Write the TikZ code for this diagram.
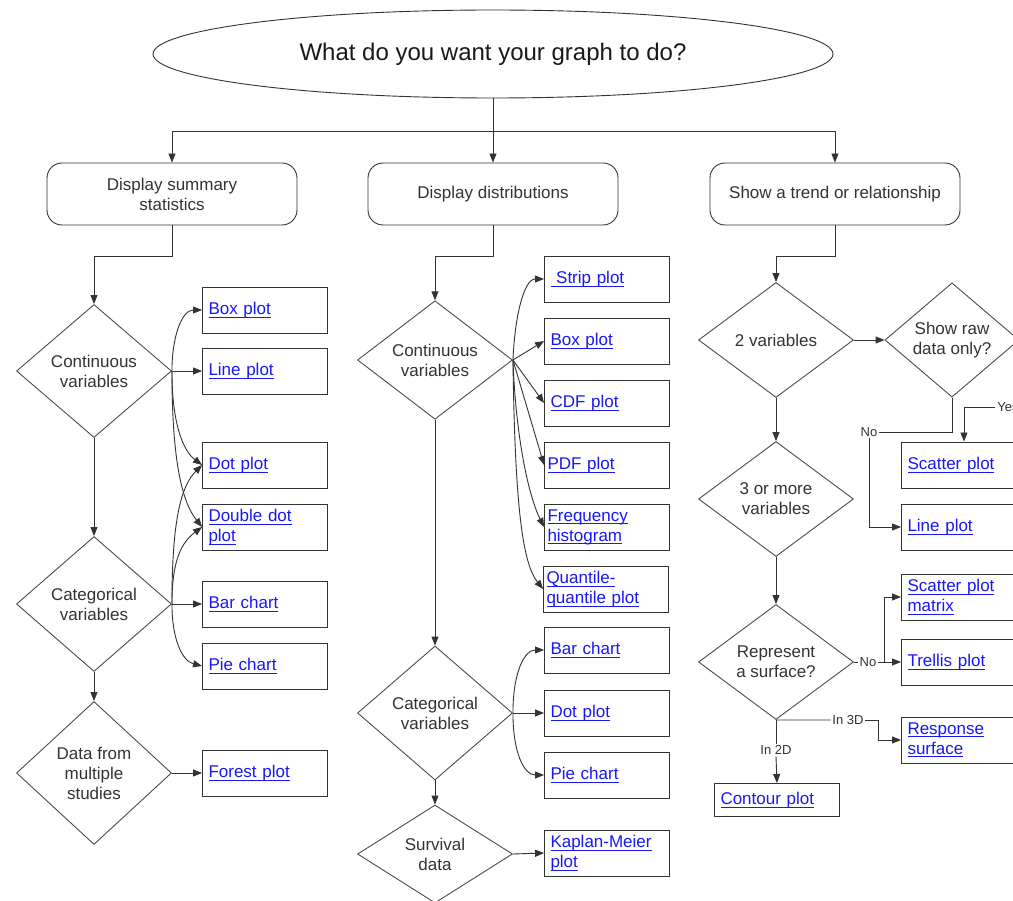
\documentclass[tikz,border=0pt]{standalone}
\usepackage{amsmath}
\usepackage{fontspec}
\setmainfont{Liberation Sans}
\usetikzlibrary{shapes.geometric,arrows.meta}
\definecolor{linkblue}{RGB}{24,24,245}
\definecolor{inkgray}{RGB}{51,51,51}
\newcommand{\lnk}[1]{\textcolor{linkblue}{\underline{\smash[b]{#1}}}}
\begin{document}
\begin{tikzpicture}[
    x=1pt, y=-1pt,
    line width=0.9pt,
    every node/.style={font=\fontsize{17}{20}\selectfont, text=inkgray},
    arr/.style={draw=black!80, -{Triangle[length=9pt,width=7pt]}},
    wire/.style={draw=black!80},
    question/.style={ellipse, draw=black!80, minimum width=680pt, minimum height=88pt, font=\fontsize{24}{28}\selectfont, text=black!90},
    task/.style={rectangle, rounded corners=15pt, draw=black!80, minimum width=250pt, minimum height=62pt, align=center},
    choice/.style={diamond, draw=black!70, minimum width=155pt, minimum height=115pt, inner sep=0pt, align=center},
    plot/.style={rectangle, draw=black!80, minimum width=125pt, minimum height=46pt, text width=113pt, inner xsep=6pt, align=left},
    tight/.style={inner xsep=3pt, text width=119pt},
    tag/.style={font=\fontsize{13}{15}\selectfont, inner sep=1.5pt}
]
\useasboundingbox[fill=white] (0,0) rectangle (1013,901);

\node[question] (goal) at (493,54) {What do you want your graph to do?};
\node[task] (summ) at (172,194) {Display summary\\statistics};
\node[task] (dist) at (493,194) {Display distributions};
\node[task] (trend) at (835,194) {Show a trend or relationship};

\node[choice, minimum height=133pt] (lcont) at (94,371) {Continuous\\variables};
\node[choice, minimum height=135pt] (lcat) at (94,604) {Categorical\\variables};
\node[choice, minimum height=143pt] (lmulti) at (94,773) {Data from\\multiple\\studies};
\node[plot] (lbox) at (265,310) {\lnk{Box plot}};
\node[plot] (lline) at (265,371) {\lnk{Line plot}};
\node[plot] (ldot) at (265,465) {\lnk{Dot plot}};
\node[plot] (ldbl) at (265,527) {\lnk{Double dot}\\\lnk{plot}};
\node[plot] (lbar) at (265,604) {\lnk{Bar chart}};
\node[plot] (lpie) at (265,666) {\lnk{Pie chart}};
\node[plot] (lforest) at (265,773) {\lnk{Forest plot}};

\node[choice] (mcont) at (435,360) {Continuous\\variables};
\node[choice, minimum height=134pt] (mcat) at (435,713) {Categorical\\variables};
\node[choice, minimum height=98pt] (msurv) at (435,854) {Survival\\data};
\node[plot] (mstrip) at (607,279) {\lnk{\ Strip plot}};
\node[plot] (mbox) at (607,341) {\lnk{Box plot}};
\node[plot] (mcdf) at (607,403) {\lnk{CDF plot}};
\node[plot, tight] (mpdf) at (607,465) {\lnk{PDF plot}};
\node[plot, tight] (mfreq) at (607,527) {\lnk{Frequency}\\\lnk{histogram}};
\node[plot, tight] (mqq) at (606,589) {\lnk{Quantile-}\\\lnk{quantile plot}};
\node[plot] (mbar) at (607,650) {\lnk{Bar chart}};
\node[plot] (mdot) at (607,713) {\lnk{Dot plot}};
\node[plot] (mpie) at (607,775) {\lnk{Pie chart}};
\node[plot] (mkm) at (607,853) {\lnk{Kaplan-Meier}\\\lnk{plot}};

\node[choice] (two) at (776,340) {2 variables};
\node[choice] (three) at (776,499) {3 or more\\variables};
\node[choice] (surf) at (776,662) {Represent\\a surface?};
\node[choice, minimum width=134pt, minimum height=100pt] (raw) at (952,340) {Show raw\\data only?};
\node[plot] (rscat) at (964,465) {\lnk{Scatter plot}};
\node[plot] (rline) at (964,527) {\lnk{Line plot}};
\node[plot] (rspm) at (964,597) {\lnk{Scatter plot}\\\lnk{matrix}};
\node[plot] (rtrellis) at (964,662) {\lnk{Trellis plot}};
\node[plot] (rresp) at (964,740) {\lnk{Response}\\\lnk{surface}};
\node[plot, minimum width=124pt, minimum height=33pt] (rcont) at (777,800) {\lnk{Contour plot}};

\node[tag] (no1) at (869,432) {No};
\node[tag] (yes1) at (1008,407) {Yes};
\node[tag] (no2) at (868,662) {No};
\node[tag] (in3) at (848,720) {In 3D};
\node[tag] (in2) at (776,750) {In 2D};

\coordinate (split) at (493,131);
\draw[wire] (goal.south) -- (split);
\draw[arr] (split) -| (summ.north);
\draw[arr] (split) -- (dist.north);
\draw[arr] (split) -| (trend.north);

\draw[arr] (summ.south) -- ++(0,31) -| (lcont.north);
\draw[arr] (lcont.south) -- (lcat.north);
\draw[arr] (lcat.south) -- (lmulti.north);
\draw[arr] (lcont.east) .. controls +(0,-35) and +(-20,0) .. (lbox.west);
\draw[arr] (lcont.east) -- (lline.west);
\draw[arr] (lcont.east) .. controls +(0,50) and +(-20,-15) .. (ldot.west);
\draw[arr] (lcont.east) .. controls +(0,90) and +(-20,-25) .. (ldbl.west);
\draw[arr] (lcat.east) .. controls +(0,-80) and +(-22,22) .. (ldot.west);
\draw[arr] (lcat.east) .. controls +(0,-45) and +(-20,15) .. (ldbl.west);
\draw[arr] (lcat.east) -- (lbar.west);
\draw[arr] (lcat.east) .. controls +(0,35) and +(-20,-5) .. (lpie.west);
\draw[arr] (lmulti.east) -- (lforest.west);

\draw[arr] (dist.south) -- ++(0,31) -| (mcont.north);
\draw[arr] (mcont.south) -- (mcat.north);
\draw[arr] (mcat.south) -- (msurv.north);
\draw[arr] (mcont.east) .. controls +(2,-45) and +(-20,0) .. (mstrip.west);
\draw[arr] (mcont.east) -- (mbox.west);
\draw[arr] (mcont.east) -- (mcdf.west);
\draw[arr] (mcont.east) -- (mpdf.west);
\draw[arr] (mcont.east) .. controls +(3,80) and +(-15,-30) .. (mfreq.west);
\draw[arr] (mcont.east) .. controls +(2,150) and +(-20,-25) .. (mqq.west);
\draw[arr] (mcat.east) .. controls +(0,-40) and +(-20,0) .. (mbar.west);
\draw[arr] (mcat.east) -- (mdot.west);
\draw[arr] (mcat.east) .. controls +(0,40) and +(-20,0) .. (mpie.west);
\draw[arr] (msurv.east) -- (mkm.west);

\draw[arr] (trend.south) -- ++(0,31) -| (two.north);
\draw[arr] (two.south) -- (three.north);
\draw[arr] (three.south) -- (surf.north);
\draw[arr] (two.east) -- (raw.west);
\draw[wire] (raw.south) |- (no1.east);
\draw[arr] (no1.south) |- (rline.west);
\draw[wire] (raw.east) -- ++(22,0) |- (yes1.east);
\draw[arr] (yes1.west) -| (rscat.north);
\draw[wire] (surf.east) -- (no2.west);
\draw[arr] (no2.east) -- (rtrellis.west);
\coordinate (fork) at (884,662);
\draw[arr] (fork) |- (rspm.west);
\draw[wire] (surf.south) -- (in3.west);
\draw[arr] (in3.east) -- ++(13,0) |- (rresp.west);
\draw[wire] (surf.south) -- (in2.north);
\draw[arr] (in2.south) -- (rcont.north);
\end{tikzpicture}
\end{document}
